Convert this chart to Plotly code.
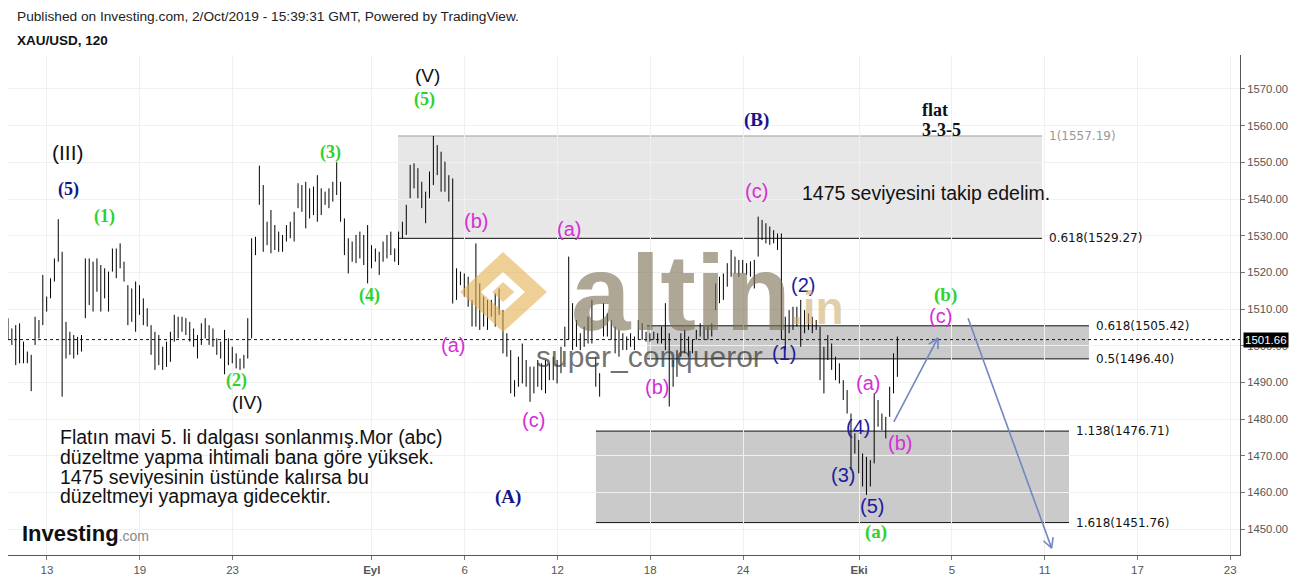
import math
import plotly.graph_objects as go

# ---------------- data (2h bars, 6 samples per trading day) ----------------
START_DAY = -1.68          # trading-day index of first bar (13 Aug = 0)
BARS_PER_DAY = 6

HIGH = [
    1507.5, 1504.7, 1505.6, 1506.1, 1501.1, 1498.4, 1497.5, 1507.9, 1507.0, 1519.3,
    1513.4, 1518.4, 1523.8, 1534.5, 1525.6, 1506.5, 1503.8, 1502.9, 1502.4, 1502.9,
    1523.8, 1523.8, 1522.9, 1523.8, 1522.0, 1521.1, 1520.2, 1526.5, 1526.5, 1527.9,
    1522.9, 1516.5, 1515.6, 1517.5, 1516.5, 1512.9, 1510.2, 1505.6, 1503.8, 1502.9,
    1499.7, 1501.1, 1503.8, 1508.4, 1507.9, 1507.9, 1507.5, 1506.5, 1504.7, 1502.9,
    1506.1, 1507.5, 1505.6, 1504.7, 1502.0, 1501.1, 1504.3, 1502.0, 1499.7, 1497.9,
    1496.5, 1497.5, 1507.5, 1529.3, 1529.7, 1549.1, 1543.8, 1533.8, 1537.0, 1532.9,
    1531.1, 1530.2, 1532.9, 1533.8, 1536.5, 1544.3, 1543.8, 1544.7, 1542.9, 1543.4,
    1546.5, 1542.9, 1542.0, 1542.9, 1544.7, 1550.0, 1544.7, 1534.7, 1529.3, 1528.4,
    1530.2, 1531.1, 1530.2, 1532.9, 1527.4, 1526.5, 1525.6, 1528.4, 1530.2, 1531.1,
    1526.5, 1531.1, 1533.8, 1538.4, 1549.3, 1549.7, 1548.4, 1544.7, 1542.0, 1547.5,
    1557.2, 1554.7, 1552.9, 1550.2, 1546.5, 1545.6,
    1521.1, 1520.2, 1519.7, 1518.8, 1512.5, 1527.9, 1517.0, 1513.4, 1512.5, 1512.5,
    1514.3, 1515.6, 1509.7, 1503.4, 1498.8, 1490.6, 1497.0, 1500.6, 1496.1, 1494.3,
    1494.3, 1496.1, 1495.2, 1496.1, 1495.2, 1497.0, 1496.1, 1499.7, 1505.2, 1524.3,
    1511.6, 1507.0, 1503.4, 1505.2, 1507.9, 1512.5, 1497.0, 1492.5, 1511.6, 1508.8,
    1507.0, 1505.2, 1504.3, 1503.4, 1502.5, 1503.4, 1502.5, 1507.0, 1506.1, 1503.8,
    1503.4, 1503.8, 1503.4, 1505.2, 1511.6, 1503.4, 1496.1, 1498.8, 1503.4, 1504.3,
    1502.5, 1501.6, 1504.3, 1506.1, 1505.2, 1505.2, 1506.1, 1517.0, 1518.8, 1519.7,
    1522.5, 1526.1, 1524.3, 1523.4, 1523.4, 1522.5, 1523.0, 1523.4, 1535.2, 1534.3,
    1533.4, 1532.5, 1531.5, 1530.6, 1530.6, 1507.9, 1509.7, 1510.6, 1510.6, 1512.5,
    1509.7, 1508.8, 1507.9, 1507.0, 1505.2, 1499.7, 1502.9, 1500.6, 1497.0, 1495.2,
    1490.6, 1487.9, 1481.5, 1476.1, 1474.3, 1470.6, 1469.7, 1468.8, 1487.0, 1485.2,
    1481.5, 1480.6, 1488.8, 1497.9, 1502.5,
]

LOW = [
    1501.5, 1500.2, 1494.7, 1495.2, 1495.2, 1495.2, 1487.6, 1500.2, 1502.0, 1505.6,
    1509.3, 1512.9, 1517.5, 1522.9, 1486.1, 1496.5, 1497.5, 1496.5, 1497.5, 1498.4,
    1507.5, 1511.1, 1509.3, 1514.7, 1509.3, 1512.9, 1509.3, 1520.2, 1518.4, 1521.1,
    1517.5, 1505.6, 1506.5, 1503.8, 1508.4, 1505.6, 1505.2, 1497.5, 1493.4, 1494.7,
    1493.4, 1494.2, 1495.6, 1501.1, 1502.0, 1503.8, 1502.9, 1501.1, 1499.7, 1496.5,
    1500.2, 1502.0, 1500.2, 1499.7, 1497.5, 1496.5, 1492.2, 1494.7, 1495.2, 1493.8,
    1493.4, 1493.8, 1496.5, 1502.0, 1524.7, 1538.4, 1525.6, 1527.4, 1525.2, 1526.1,
    1525.6, 1525.6, 1528.4, 1529.3, 1528.4, 1537.5, 1536.5, 1532.0, 1534.7, 1535.6,
    1533.8, 1535.6, 1538.4, 1537.5, 1539.3, 1541.1, 1533.8, 1524.7, 1519.7, 1522.9,
    1522.5, 1523.8, 1522.0, 1517.0, 1521.1, 1522.9, 1519.3, 1522.9, 1523.8, 1524.7,
    1522.9, 1522.0, 1529.3, 1530.2, 1540.2, 1542.9, 1540.2, 1537.5, 1533.4, 1540.2,
    1543.8, 1546.5, 1542.0, 1542.0, 1539.3, 1511.5,
    1512.5, 1516.5, 1513.4, 1510.6, 1505.2, 1505.2, 1504.3, 1505.2, 1504.3, 1507.9,
    1505.2, 1508.4, 1497.9, 1497.0, 1487.0, 1486.1, 1488.8, 1489.7, 1488.8, 1484.7,
    1487.0, 1488.8, 1487.9, 1487.0, 1490.6, 1490.6, 1489.7, 1492.5, 1499.7, 1501.6,
    1498.8, 1499.7, 1498.8, 1499.7, 1500.6, 1500.6, 1488.8, 1486.1, 1502.5, 1502.5,
    1501.6, 1497.9, 1497.0, 1498.8, 1498.8, 1499.7, 1498.8, 1501.6, 1501.6, 1501.1,
    1501.1, 1501.6, 1500.6, 1500.6, 1498.8, 1483.4, 1488.8, 1491.5, 1497.0, 1497.9,
    1497.0, 1497.9, 1501.6, 1502.5, 1501.6, 1501.6, 1502.5, 1509.7, 1511.6, 1512.5,
    1516.1, 1518.8, 1519.7, 1518.8, 1519.7, 1519.3, 1518.8, 1515.6, 1524.3, 1528.8,
    1527.9, 1527.5, 1527.9, 1526.1, 1501.6, 1498.8, 1503.4, 1504.3, 1505.2, 1499.7,
    1503.4, 1504.3, 1503.4, 1504.3, 1490.6, 1487.0, 1496.1, 1493.4, 1490.6, 1489.7,
    1485.2, 1481.5, 1466.1, 1470.6, 1465.2, 1461.6, 1459.3, 1461.6, 1467.9, 1477.9,
    1477.0, 1474.7, 1480.6, 1487.0, 1491.5,
]

LAST_PRICE = 1501.66

TICK_DAYS = [0, 4, 8, 14, 18, 22, 26, 30, 35, 39, 43, 47, 51]
TICK_TEXT = ["13", "19", "23", "<b>Eyl</b>", "6", "12", "18", "24", "<b>Eki</b>",
             "5", "11", "17", "23"]

# Fibonacci zones: (x_start_day, x_end_day, upper level, lower level, upper label, lower label)
FIB_UPPER = (15.13, 42.89, 1557.19, 1529.27, "1(1557.19)", "0.618(1529.27)")
FIB_MID = (25.86, 44.91, 1505.42, 1496.40, "0.618(1505.42)", "0.5(1496.40)")
FIB_LOW = (23.66, 44.05, 1476.71, 1451.76, "1.138(1476.71)", "1.618(1451.76)")

# ---------------- scales ----------------
X_RANGE = [-1.68, 51.42]
Y_RANGE = [1442.92, 1579.27]
PX_PER_DAY = 23.2
PX_PER_USD = 3.6667

x_vals = [START_DAY + i / BARS_PER_DAY for i in range(len(HIGH))]

fig = go.Figure()

SANS = "Liberation Sans, Arial, sans-serif"
SERIF = "Liberation Serif, Times New Roman, serif"

# ---------------- fib zones ----------------
shapes = []
annotations = []


def zone(z, fill, top_color):
    x0, x1, up, lo, tu, tl = z
    shapes.append(dict(type="rect", xref="x", yref="y", x0=x0, x1=x1, y0=lo, y1=up,
                       fillcolor=fill, line=dict(width=0), layer="below"))
    shapes.append(dict(type="line", xref="x", yref="y", x0=x0, x1=x1, y0=up, y1=up,
                       line=dict(color=top_color, width=1), layer="below"))
    shapes.append(dict(type="line", xref="x", yref="y", x0=x0, x1=x1, y0=lo, y1=lo,
                       line=dict(color="#111111", width=1), layer="below"))
    annotations.append(dict(x=x1, y=up, xref="x", yref="y", text=tu, showarrow=False,
                            xanchor="left", xshift=5, yanchor="middle",
                            font=dict(family="DejaVu Sans", size=12,
                                      color=("#999999" if top_color != "#111111" else "#111111"))))
    annotations.append(dict(x=x1, y=lo, xref="x", yref="y", text=tl, showarrow=False,
                            xanchor="left", xshift=5, yanchor="middle",
                            font=dict(family="DejaVu Sans", size=12, color="#111111")))


zone(FIB_UPPER, "#e7e7e7", "#a0a0a0")
zone(FIB_MID, "#cacaca", "#111111")
zone(FIB_LOW, "#cacaca", "#111111")

# ---------------- price bars ----------------
fig.add_trace(go.Ohlc(
    x=x_vals, open=LOW, high=HIGH, low=LOW, close=HIGH,
    increasing=dict(line=dict(color="black", width=1)),
    decreasing=dict(line=dict(color="black", width=1)),
    tickwidth=0, hoverinfo="skip", showlegend=False,
))

# last price dotted line
shapes.append(dict(type="line", xref="paper", yref="y", x0=0, x1=1, y0=LAST_PRICE, y1=LAST_PRICE,
                   line=dict(color="#111111", width=1, dash="dot"), layer="above"))

# ---------------- projection arrows ----------------
ARROW_COLOR = "#7088c0"


def arrow(x0, y0, x1, y1):
    shapes.append(dict(type="line", xref="x", yref="y", x0=x0, y0=y0, x1=x1, y1=y1,
                       line=dict(color=ARROW_COLOR, width=1.6), layer="above"))
    dx = (x1 - x0) * PX_PER_DAY
    dy = (y1 - y0) * PX_PER_USD
    ang = math.atan2(dy, dx)
    for s in (1, -1):
        a = ang + math.pi - s * math.radians(28)
        hx = x1 + 11 * math.cos(a) / PX_PER_DAY
        hy = y1 + 11 * math.sin(a) / PX_PER_USD
        shapes.append(dict(type="line", xref="x", yref="y", x0=x1, y0=y1, x1=hx, y1=hy,
                           line=dict(color=ARROW_COLOR, width=1.6), layer="above"))


arrow(36.5, 1479.2, 38.4, 1502.1)
arrow(39.7, 1507.5, 43.3, 1444.8)

# ---------------- wave labels ----------------
GREEN = "#2fd12f"
NAVY = "#14148c"
BLUE = "#1c1ca0"
MAGENTA = "#d62fd6"


def lab(x, y, t, color, family=SANS, size=20, bold=False, anchor="center"):
    annotations.append(dict(x=x, y=y, xref="x", yref="y",
                            text=(f"<b>{t}</b>" if bold else t), showarrow=False,
                            xanchor=anchor, yanchor="middle",
                            font=dict(family=family, size=size, color=color)))


lab(0.91, 1552.8, "(III)", "#111111", size=21)
lab(0.91, 1542.7, "(5)", NAVY, SERIF, 18, True)
lab(2.5, 1535.1, "(1)", GREEN, SERIF, 18, True)
lab(8.15, 1490.6, "(2)", GREEN, SERIF, 18, True)
lab(8.66, 1484.6, "(IV)", "#111111", size=19)
lab(12.24, 1552.8, "(3)", GREEN, SERIF, 18, True)
lab(13.92, 1513.8, "(4)", GREEN, SERIF, 18, True)
lab(16.38, 1573.8, "(V)", "#111111", size=19)
lab(16.29, 1567.0, "(5)", GREEN, SERIF, 18, True)
lab(17.5, 1500.2, "(a)", MAGENTA)
lab(18.49, 1534.0, "(b)", MAGENTA)
lab(20.95, 1479.7, "(c)", MAGENTA)
lab(22.5, 1531.8, "(a)", MAGENTA)
lab(19.87, 1458.7, "(A)", NAVY, SERIF, 19, True)
lab(26.29, 1488.7, "(b)", MAGENTA)
lab(30.6, 1542.2, "(c)", MAGENTA)
lab(30.56, 1561.5, "(B)", NAVY, SERIF, 19, True)
lab(31.77, 1498.0, "(1)", BLUE)
lab(32.59, 1516.5, "(2)", BLUE)
lab(35.39, 1489.8, "(a)", MAGENTA)
lab(34.96, 1477.8, "(4)", BLUE)
lab(36.77, 1473.5, "(b)", MAGENTA)
lab(34.31, 1464.7, "(3)", BLUE)
lab(35.56, 1456.3, "(5)", BLUE)
lab(35.73, 1449.2, "(a)", GREEN, SERIF, 19, True)
lab(38.71, 1513.8, "(b)", GREEN, SERIF, 19, True)
lab(38.49, 1508.1, "(c)", MAGENTA)
lab(37.63, 1564.3, "flat", "#111111", SERIF, 18, True, "left")
lab(37.63, 1558.8, "3-3-5", "#111111", SERIF, 18, True, "left")
lab(32.46, 1541.6, "1475 seviyesini takip edelim.", "#111111", SANS, 19.5, False, "left")

NOTE_LINES = [
    "Flatın mavi 5. li dalgası sonlanmış.Mor (abc)",
    "düzeltme yapma ihtimali bana göre yüksek.",
    "1475 seviyesinin üstünde kalırsa bu",
    "düzeltmeyi yapmaya gidecektir.",
]
for line, yy in zip(NOTE_LINES, [1475.1, 1469.6, 1464.2, 1459.0]):
    lab(0.47, yy, line, "#111111", SANS, 19.5, False, "left")

# ---------------- watermark ----------------
annotations.append(dict(x=0.546, y=0.524, xref="paper", yref="paper", text="<b>altin</b>",
                        showarrow=False, xanchor="center", yanchor="middle",
                        font=dict(family=SANS, size=107, color="rgba(125,113,85,0.62)")))
annotations.append(dict(x=0.657, y=0.494, xref="paper", yref="paper", text="<b>.in</b>",
                        showarrow=False, xanchor="center", yanchor="middle",
                        font=dict(family=SANS, size=46, color="rgba(205,175,110,0.6)")))
annotations.append(dict(x=0.5203, y=0.397, xref="paper", yref="paper", text="super_conqueror",
                        showarrow=False, xanchor="center", yanchor="middle",
                        font=dict(family=SANS, size=30, color="rgba(60,60,60,0.72)")))
shapes.append(dict(type="path", xref="paper", yref="paper", layer="above",
                   path=("M 0.4018 0.606 L 0.4375 0.526 L 0.4018 0.446 L 0.3669 0.526 Z "
                         "M 0.4018 0.566 L 0.3839 0.526 L 0.4018 0.486 L 0.4196 0.526 Z"),
                   fillcolor="rgba(226,176,82,0.6)", line=dict(width=0)))
shapes.append(dict(type="path", xref="paper", yref="paper", layer="above",
                   path="M 0.4018 0.546 L 0.4110 0.526 L 0.4018 0.506 L 0.3930 0.526 Z",
                   fillcolor="rgba(226,176,82,0.6)", line=dict(width=0)))

# ---------------- header, logo, price tag ----------------
annotations.append(dict(x=0.0057, y=1.076, xref="paper", yref="paper", showarrow=False,
                        text="Published on Investing.com, 2/Oct/2019 - 15:39:31 GMT, Powered by TradingView.",
                        xanchor="left", yanchor="middle",
                        font=dict(family=SANS, size=13.7, color="#222222")))
annotations.append(dict(x=0.0057, y=1.028, xref="paper", yref="paper", showarrow=False,
                        text="<b>XAU/USD, 120</b>", xanchor="left", yanchor="middle",
                        font=dict(family=SANS, size=13.5, color="#111111")))
annotations.append(dict(x=0.0097, y=0.044, xref="paper", yref="paper", showarrow=False,
                        text="<b>Investing</b><span style='font-size:14px;color:#888888'>.com</span>",
                        xanchor="left", yanchor="middle",
                        font=dict(family=SANS, size=22, color="#111111")))
annotations.append(dict(x=1, y=LAST_PRICE, xref="paper", yref="y", showarrow=False,
                        text="1501.66", xanchor="left", yanchor="middle", xshift=3,
                        bgcolor="#000000", borderpad=1,
                        font=dict(family=SANS, size=11.5, color="#ffffff")))

# the page body adds an 8px offset, so the margins are shifted to keep the plot
# area where the reference has it (x 8..1240, y 55..555 in the window)
fig.update_layout(
    width=1299, height=580,
    margin=dict(l=0, r=67, t=47, b=33),
    paper_bgcolor="white", plot_bgcolor="white",
    showlegend=False,
    shapes=shapes, annotations=annotations,
    xaxis=dict(range=X_RANGE, tickvals=TICK_DAYS, ticktext=TICK_TEXT,
               showgrid=True, gridcolor="#f0f0f0", gridwidth=1,
               showline=True, linecolor="#555555", linewidth=1,
               ticks="outside", ticklen=4, tickcolor="#777777",
               tickfont=dict(family=SANS, size=11.5, color="#555555"),
               rangeslider=dict(visible=False), zeroline=False, fixedrange=True),
    yaxis=dict(range=Y_RANGE, side="right", dtick=10, tick0=1450, tickformat=".2f",
               showgrid=True, gridcolor="#f0f0f0", gridwidth=1,
               showline=True, linecolor="#555555", linewidth=1,
               ticks="outside", ticklen=4, tickcolor="#777777",
               tickfont=dict(family=SANS, size=11.3, color="#555555"),
               zeroline=False, fixedrange=True),
)

fig.write_html("out.html")
